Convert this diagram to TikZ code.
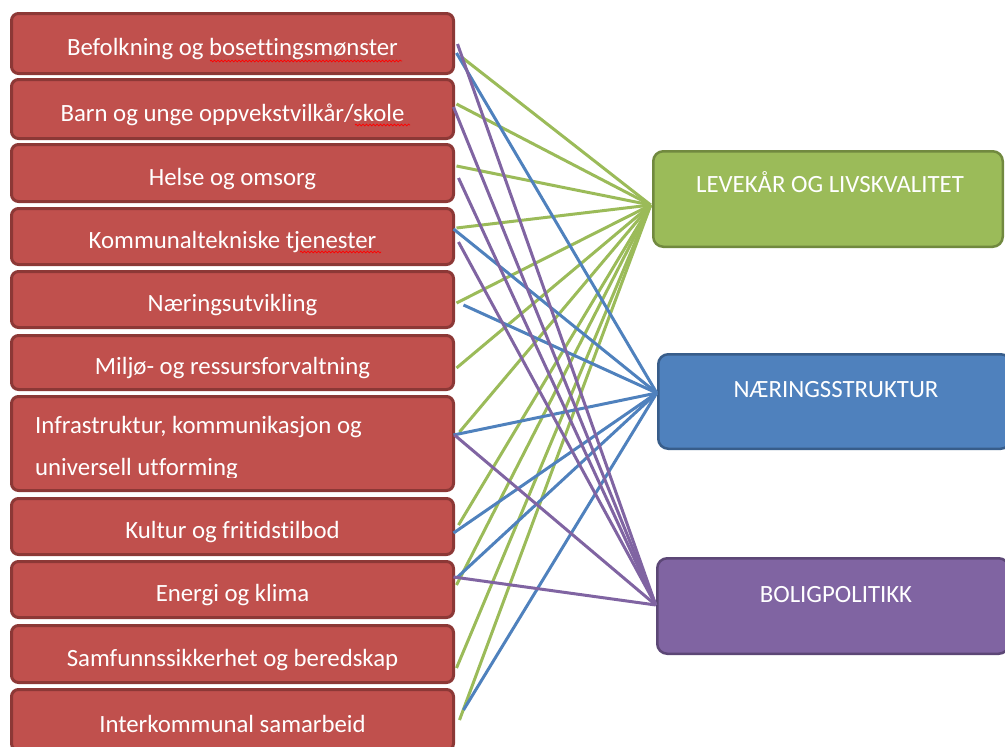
\documentclass[tikz,border=0pt]{standalone}
\usepackage{fontspec}
\setmainfont{Carlito}[Ligatures=NoCommon]
\usetikzlibrary{calc,decorations.pathmorphing}
\definecolor{redfill}{HTML}{C0504D}
\definecolor{redline}{HTML}{8C3836}
\definecolor{grfill}{HTML}{9BBB59}
\definecolor{grline}{HTML}{71893F}
\definecolor{blfill}{HTML}{4F81BD}
\definecolor{blline}{HTML}{385D8A}
\definecolor{pufill}{HTML}{8064A2}
\definecolor{puline}{HTML}{5C4776}
\begin{document}
\begin{tikzpicture}[x=1pt,y=-1pt,
  lbox/.style={draw=redline, fill=redfill, line width=3pt, rounded corners=7pt,
    minimum width=442pt, inner sep=0pt, text=white, text height=24pt, text depth=0pt,
    font=\fontsize{24.8}{30}\selectfont},
  ltext/.style={text=white, inner sep=0pt, anchor=base west, font=\fontsize{24.8}{30}\selectfont},
  rbox/.style={line width=2.5pt, rounded corners=10pt, inner sep=0pt, minimum height=95.5pt},
  rtext/.style={text=white, inner sep=0pt, anchor=base, font=\fontsize{24.8}{30}\selectfont},
  conn/.style={line width=3pt},
  gconn/.style={conn, draw=grfill},
  bconn/.style={conn, draw=blfill},
  pconn/.style={conn, draw=pufill},
  squig/.style={draw=red, line width=0.7pt, decorate, decoration={snake, amplitude=0.9pt, segment length=3.5pt}}
]
\useasboundingbox (0,0) rectangle (1005,747);
\clip (0,0) rectangle (1005,747);

% left boxes
\node[lbox, minimum height=60pt] (L1) at (232.5,43.5) {Befolkning og bosettingsmønster};
\node[lbox, minimum height=59pt] (L2) at (232.5,109) {Barn og unge oppvekstvilkår/skole};
\node[lbox, minimum height=57pt] (L3) at (232.5,173) {Helse og omsorg};
\node[lbox, minimum height=56pt] (L4) at (232.5,236.5) {Kommunaltekniske tjenester};
\node[lbox, minimum height=56pt] (L5) at (232.5,299.5) {Næringsutvikling};
\node[lbox, minimum height=54pt] (L6) at (232.5,362.5) {Miljø- og ressursforvaltning};
\node[lbox, minimum height=94pt] (L7) at (232.5,443.5) {};
\node[lbox, minimum height=56pt] (L8) at (232.5,526.5) {Kultur og fritidstilbod};
\node[lbox, minimum height=56pt] (L9) at (232.5,589.5) {Energi og klima};
\node[lbox, minimum height=57pt] (L10) at (232.5,654) {Samfunnssikkerhet og beredskap};
\node[lbox, minimum height=61pt] (L11) at (232.5,720) {Interkommunal samarbeid};

\begin{scope}
  \clip (20,400) rectangle (450,477);
  \node[ltext] (L7a) at (35,433) {Infrastruktur, kommunikasjon og};
  \node[ltext] (L7b) at (35,475) {universell utforming};
\end{scope}

% spell-check marks
\draw[squig] (210,61) -- (402,61);
\draw[squig] (355,125) -- (410,125);
\draw[squig] (300,252) -- (381,252);

% right boxes
\node[rbox, draw=grline, fill=grfill, minimum width=349.5pt] (G) at (828,199) {};
\node[rbox, draw=blline, fill=blfill, minimum width=352.5pt, minimum height=94.5pt] (B) at (834.5,401.5) {};
\node[rbox, draw=puline, fill=pufill, minimum width=351.5pt] (P) at (833,606) {};

\node[rtext] (Gt) at ($(G.center)+(2,-7)$) {LEVEKÅR OG LIVSKVALITET};
\node[rtext] (Bt) at ($(B.center)+(1.5,-4)$) {NÆRINGSSTRUKTUR};
\node[rtext] (Pt) at ($(P.center)+(3,-3.5)$) {BOLIGPOLITIKK};

% connectors
\foreach \i/\dx/\dy in {1/6.5/13.5, 2/1.5/-5, 3/1.5/-7, 4/1.5/-8.5, 5/1.5/3.5, 6/1.5/5.5,
    7/4.5/-11.5, 8/3.5/-1.5, 9/1.5/-4.5, 10/1.5/14, 11/4.5/0}
  \draw[gconn] ($(L\i.east)+(\dx,\dy)$) -- ($(G.west)+(-1.25,6)$);
\foreach \i/\dx/\dy in {1/1.5/9.5, 4/-1.5/-7.5, 5/8.5/5.5, 7/-1.5/-8.5, 8/-1.5/6.5, 9/1.5/-11.5, 11/8.5/-10}
  \draw[bconn] ($(L\i.east)+(\dx,\dy)$) -- ($(B.west)+(-0.25,-8.5)$);
\foreach \i/\dx/\dy in {1/2.5/0.5, 2/-1.5/-2, 3/3.5/5, 4/3.5/5.5, 7/-0.5/-8.5, 9/-1.5/-12.5}
  \draw[pconn] ($(L\i.east)+(\dx,\dy)$) -- ($(P.west)+(-0.25,-1)$);
\end{tikzpicture}
\end{document}
